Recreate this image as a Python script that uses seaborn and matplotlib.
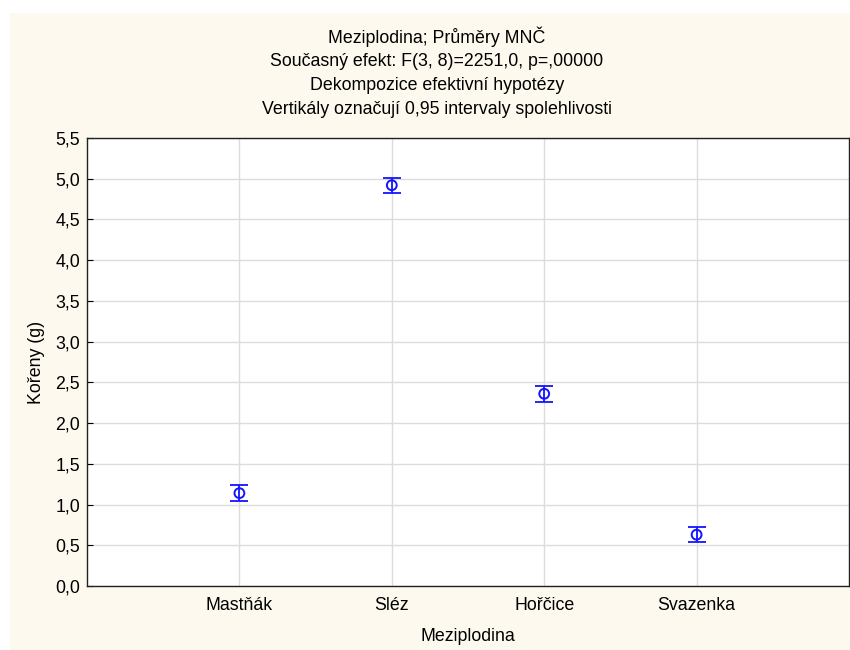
import matplotlib
matplotlib.use("Agg")
import matplotlib.pyplot as plt
from matplotlib.patches import Rectangle
import seaborn as sns
import pandas as pd

# Least-squares means of root mass per cover crop with 95% CI half-widths
categories = ["Mastňák", "Sléz", "Hořčice", "Svazenka"]
means = [1.14, 4.92, 2.36, 0.63]
ci_half = [0.095, 0.095, 0.095, 0.095]
y_ticks = [0.0, 0.5, 1.0, 1.5, 2.0, 2.5, 3.0, 3.5, 4.0, 4.5, 5.0, 5.5]

title_lines = [
    "Meziplodina; Průměry MNČ",
    "Současný efekt: F(3, 8)=2251,0, p=,00000",
    "Dekompozice efektivní hypotézy",
    "Vertikály označují 0,95 intervaly spolehlivosti",
]

sns.set_theme(style="white")
plt.rcParams["font.family"] = ["Arial", "Liberation Sans", "DejaVu Sans"]

df = pd.DataFrame({"Meziplodina": categories, "Kořeny (g)": means, "ci": ci_half})

fs = 12.8

fig = plt.figure(figsize=(8.5, 6.5), dpi=100)
fig.patch.set_facecolor("white")
fig.add_artist(Rectangle((10 / 850, 0), 840 / 850, (650 - 13) / 650,
                         transform=fig.transFigure, facecolor="#FDF9EE",
                         edgecolor="none", zorder=-10))

ax = fig.add_axes([87 / 850, (650 - 586) / 650, (849 - 87) / 850, (586 - 138) / 650])
ax.set_facecolor("white")

blue = "#1414FF"
x = list(range(len(categories)))
ax.errorbar(x, df["Kořeny (g)"], yerr=df["ci"], fmt="none", ecolor=blue,
            elinewidth=1.3, capsize=6.5, capthick=1.3, zorder=3)
sns.scatterplot(x=x, y=df["Kořeny (g)"], ax=ax, marker="o", s=50,
                facecolors="none", edgecolor=blue, linewidth=1.4, zorder=4)

ax.set_xlim(-1, 4)
ax.set_ylim(0, 5.5)
ax.set_xticks(x)
ax.set_xticklabels(categories)
ax.set_yticks(y_ticks)
ax.set_yticklabels([f"{v:.1f}".replace(".", ",") for v in y_ticks])
ax.grid(True, color="#DCDCDC", linewidth=1.0)
ax.set_axisbelow(True)
ax.tick_params(axis="both", labelsize=fs, colors="black", direction="in",
               length=4, width=0.8, left=True, bottom=False, pad=5)
ax.tick_params(axis="x", pad=8)
for s in ax.spines.values():
    s.set_color("#222222")
    s.set_linewidth(1.0)

ax.set_xlabel("Meziplodina", fontsize=fs, labelpad=10, color="black")
ax.set_ylabel("Kořeny (g)", fontsize=fs, labelpad=7, color="black")

for i, line in enumerate(title_lines):
    fig.text(437 / 850, 1 - (37 + 24 * i) / 650, line, ha="center", va="center",
             fontsize=fs, color="black")

fig.savefig("out.png", dpi=100)
